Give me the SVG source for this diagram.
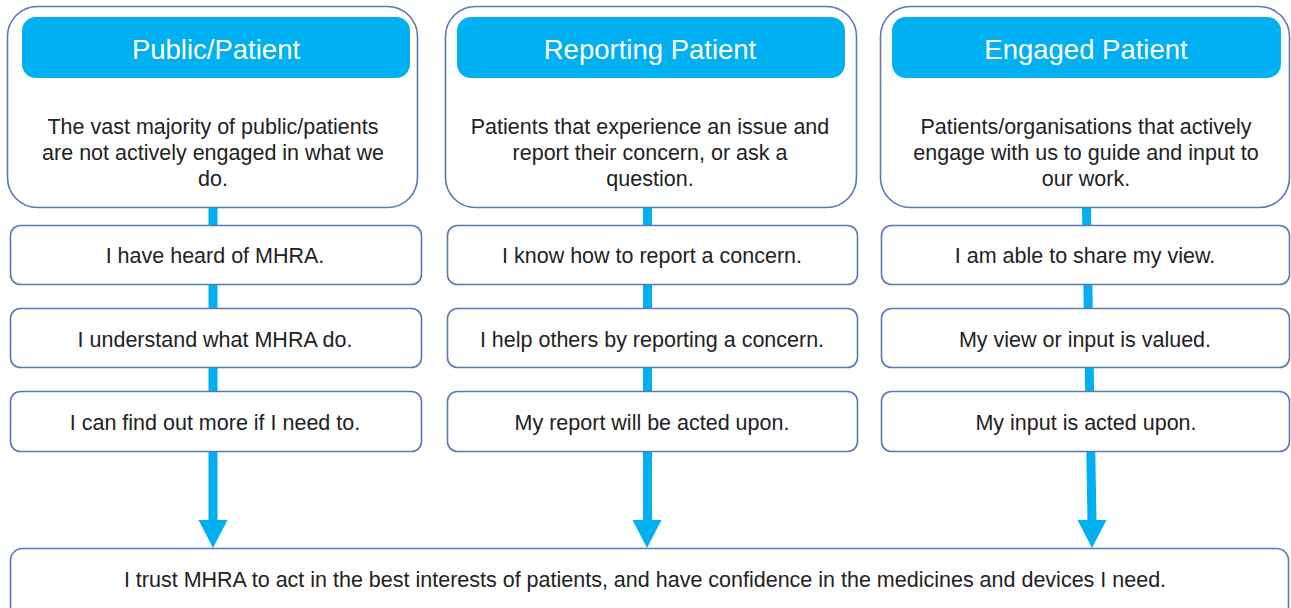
<svg xmlns="http://www.w3.org/2000/svg" width="1291" height="608" viewBox="0 0 1291 608">
  <style>
    .frame { fill: #ffffff; stroke: #5b78b3; stroke-width: 1.6; }
    .head { fill: #00b0f0; stroke: none; }
    .head-t { font-family: "Liberation Sans", Arial, sans-serif; font-size: 27.5px; fill: #ffffff; text-anchor: middle; }
    .body-t { font-family: "Liberation Sans", Arial, sans-serif; font-size: 21.5px; fill: #222222; text-anchor: middle; }
    .stem { stroke: #00b0f0; stroke-width: 9; fill: none; }
    .tip { fill: #00b0f0; }
  </style>

  <!-- connectors: blue stems running down each column into the shared statement -->
  <g id="connectors">
    <line class="stem" x1="213" y1="208" x2="213" y2="522"/>
    <polygon class="tip" points="198.5,520 227.5,520 213,548"/>
    <line class="stem" x1="647.5" y1="208" x2="647.5" y2="522"/>
    <polygon class="tip" points="632.5,520 661.5,520 647,548"/>
    <line class="stem" x1="1086.5" y1="208" x2="1092" y2="522"/>
    <polygon class="tip" points="1077.5,520 1106.5,520 1092,548"/>
  </g>

  <!-- column 1 -->
  <g id="public-patient">
    <rect class="frame" x="7.5" y="6.5" width="410" height="201" rx="30"/>
    <rect class="head" x="22" y="17" width="388" height="61" rx="14"/>
    <text class="head-t" x="216" y="59">Public/Patient</text>
    <text class="body-t" x="213" y="134">The vast majority of public/patients</text>
    <text class="body-t" x="213" y="160">are not actively engaged in what we</text>
    <text class="body-t" x="213" y="186">do.</text>
  </g>
  <g id="p1">
    <rect class="frame" x="10.5" y="225.5" width="411" height="59" rx="10"/>
    <text class="body-t" x="215" y="263">I have heard of MHRA.</text>
  </g>
  <g id="p2">
    <rect class="frame" x="10.5" y="308.5" width="411" height="59" rx="10"/>
    <text class="body-t" x="215" y="346.5">I understand what MHRA do.</text>
  </g>
  <g id="p3">
    <rect class="frame" x="10.5" y="391.5" width="411" height="60" rx="10"/>
    <text class="body-t" x="215" y="430">I can find out more if I need to.</text>
  </g>

  <!-- column 2 -->
  <g id="reporting-patient">
    <rect class="frame" x="445.5" y="6.5" width="411" height="201" rx="30"/>
    <rect class="head" x="457" y="17" width="388" height="61" rx="14"/>
    <text class="head-t" x="650" y="59">Reporting Patient</text>
    <text class="body-t" x="650" y="134">Patients that experience an issue and</text>
    <text class="body-t" x="650" y="160">report their concern, or ask a</text>
    <text class="body-t" x="650" y="186">question.</text>
  </g>
  <g id="r1">
    <rect class="frame" x="447.5" y="225.5" width="410" height="59" rx="10"/>
    <text class="body-t" x="652" y="263">I know how to report a concern.</text>
  </g>
  <g id="r2">
    <rect class="frame" x="447.5" y="308.5" width="410" height="59" rx="10"/>
    <text class="body-t" x="652" y="346.5">I help others by reporting a concern.</text>
  </g>
  <g id="r3">
    <rect class="frame" x="447.5" y="391.5" width="410" height="60" rx="10"/>
    <text class="body-t" x="652" y="430">My report will be acted upon.</text>
  </g>

  <!-- column 3 -->
  <g id="engaged-patient">
    <rect class="frame" x="880.5" y="6.5" width="409" height="201" rx="30"/>
    <rect class="head" x="892" y="17" width="389" height="61" rx="14"/>
    <text class="head-t" x="1086" y="59">Engaged Patient</text>
    <text class="body-t" x="1086" y="134">Patients/organisations that actively</text>
    <text class="body-t" x="1086" y="160">engage with us to guide and input to</text>
    <text class="body-t" x="1086" y="186">our work.</text>
  </g>
  <g id="e1">
    <rect class="frame" x="881.5" y="225.5" width="408" height="59" rx="10"/>
    <text class="body-t" x="1085" y="263">I am able to share my view.</text>
  </g>
  <g id="e2">
    <rect class="frame" x="881.5" y="308.5" width="408" height="59" rx="10"/>
    <text class="body-t" x="1085" y="346.5">My view or input is valued.</text>
  </g>
  <g id="e3">
    <rect class="frame" x="881.5" y="391.5" width="408" height="60" rx="10"/>
    <text class="body-t" x="1086" y="430">My input is acted upon.</text>
  </g>

  <!-- shared outcome -->
  <g id="trust">
    <rect class="frame" x="10.5" y="548.5" width="1278" height="70" rx="12"/>
    <text class="body-t" x="645" y="587">I trust MHRA to act in the best interests of patients, and have confidence in the medicines and devices I need.</text>
  </g>
</svg>
